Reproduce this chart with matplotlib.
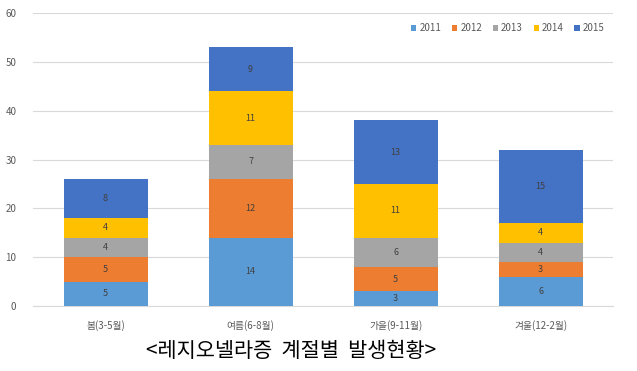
import matplotlib
matplotlib.use("Agg")
import matplotlib.pyplot as plt
import numpy as np

plt.rcParams['font.family'] = ['Noto Sans CJK KR', 'DejaVu Sans']

categories = ['봄(3-5월)', '여름(6-8월)', '가을(9-11월)', '겨울(12-2월)']
years = ['2011', '2012', '2013', '2014', '2015']
v2011 = [5, 14, 3, 6]
v2012 = [5, 12, 5, 3]
v2013 = [4, 7, 6, 4]
v2014 = [4, 11, 11, 4]
v2015 = [8, 9, 13, 15]
series = [v2011, v2012, v2013, v2014, v2015]
colors = ['#5B9BD5', '#ED7D31', '#A5A5A5', '#FFC000', '#4472C4']
title = '<레지오넬라증  계절별  발생현황>'

fig = plt.figure(figsize=(6.37, 3.71), dpi=100)
ax = fig.add_axes([0.052, 0.175, 0.9105, 0.79])

x = np.arange(len(categories))
bottom = np.zeros(len(categories))
for name, vals, c in zip(years, series, colors):
    ax.bar(x, vals, 0.58, bottom=bottom, color=c, label=name, zorder=3)
    for xi, b, v in zip(x, bottom, vals):
        ax.text(xi, b + v / 2, str(v), ha='center', va='center', fontsize=6.5, color='#404040', zorder=4)
    bottom += np.array(vals)

ax.set_xlim(-0.5, 3.5)
ax.set_ylim(0, 60)
ax.set_yticks(range(0, 61, 10))
ax.set_xticks(x)
ax.set_xticklabels(categories)
ax.tick_params(axis='both', length=0, labelsize=7, colors='#595959')
ax.tick_params(axis='x', pad=10)
ax.tick_params(axis='y', pad=12)
ax.yaxis.grid(True, color='#D9D9D9', linewidth=0.8, zorder=0)
for s in ['top', 'right', 'left']:
    ax.spines[s].set_visible(False)
ax.spines['bottom'].set_color('#D9D9D9')

leg = ax.legend(loc='upper right', bbox_to_anchor=(1.0, 0.995), ncol=5, frameon=False, fontsize=7,
                handlelength=0.55, handleheight=0.55, handletextpad=0.3, columnspacing=1.1)
for t in leg.get_texts():
    t.set_color('#595959')

fig.text(0.457, 0.055, title, ha='center', va='center', fontsize=15, color='black')

fig.savefig('out.png', dpi=100)
